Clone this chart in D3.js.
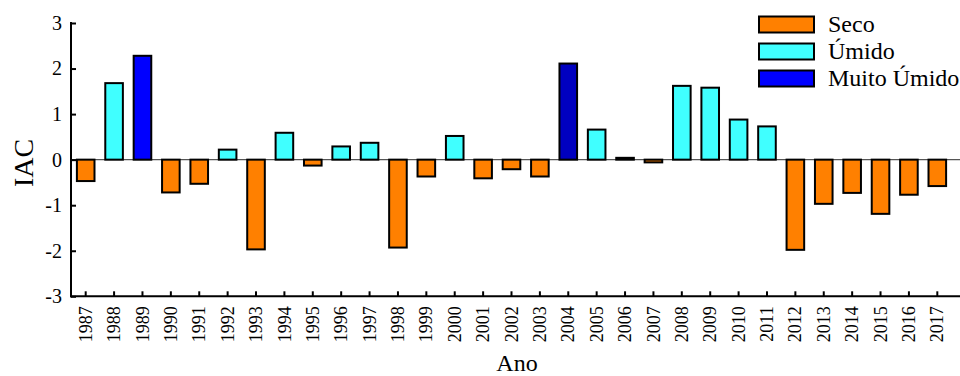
<!DOCTYPE html>
<html>
<head>
<meta charset="utf-8">
<script src="https://cdn.jsdelivr.net/npm/d3@7"></script>
<style>
  body { margin: 0; background: #fff; }
</style>
</head>
<body>
<svg id="chart" width="960" height="376"></svg>
<script>
// dados do IAC anual
const anos = d3.range(1987, 2018)
const iac = [-0.47, 1.68, 2.28, -0.72, -0.53, 0.22, -1.97, 0.59, -0.13, 0.29,
  0.37, -1.93, -0.37, 0.52, -0.41, -0.21, -0.37, 2.11, 0.66, 0.04,
  -0.06, 1.62, 1.58, 0.88, 0.73, -1.98, -0.97, -0.73, -1.19, -0.77, -0.58]
// classe de cada ano (2004 aparece num azul mais escuro no original)
const classe = ["Seco", "Úmido", "Muito Úmido", "Seco", "Seco", "Úmido", "Seco", "Úmido", "Seco", "Úmido",
  "Úmido", "Seco", "Seco", "Úmido", "Seco", "Seco", "Seco", "Muito Úmido 2", "Úmido", "Úmido",
  "Seco", "Úmido", "Úmido", "Úmido", "Úmido", "Seco", "Seco", "Seco", "Seco", "Seco", "Seco"]
const legenda = ["Seco", "Úmido", "Muito Úmido"]
const yTicks = [-3, -2, -1, 0, 1, 2, 3]

const cores = {"Seco": "#FF8000", "Úmido": "#40FFFF", "Muito Úmido": "#0000FF", "Muito Úmido 2": "#0000C0"}
const fonte = "'Liberation Serif', 'Times New Roman', serif"

const svg = d3.select("#chart")
const [mLeft, mRight, mTop, mBottom] = [71, 960, 23, 296.3]

const x = d3.scaleBand()
  .domain(anos)
  .range([mLeft + 0.5, 951.5])
  .paddingInner(0.38)
  .paddingOuter(0.19)

const y = d3.scaleLinear()
  .domain([-3, 3])
  .range([mBottom, mTop])

// linha do zero
svg.append("line")
  .attr("x1", mLeft).attr("x2", mRight)
  .attr("y1", y(0)).attr("y2", y(0))
  .attr("stroke", "#555").attr("stroke-width", 1.2)

// barras
svg.append("g").selectAll("rect")
  .data(anos)
  .join("rect")
  .attr("x", (d) => x(d))
  .attr("width", x.bandwidth())
  .attr("y", (d, i) => y(Math.max(0, iac[i])))
  .attr("height", (d, i) => Math.abs(y(iac[i]) - y(0)))
  .attr("fill", (d, i) => cores[classe[i]])
  .attr("stroke", "#000")
  .attr("stroke-width", 2)

// eixo y
const yAxis = svg.append("g")
  .attr("transform", "translate(" + mLeft + ",0)")
  .call(d3.axisLeft(y).tickValues(yTicks).tickSize(-5).tickPadding(9).tickFormat(d3.format("d")))
yAxis.select(".domain").remove()
yAxis.selectAll("line").attr("stroke", "#000").attr("stroke-width", 2)
yAxis.selectAll("text").style("font-size", "20px")
  .text((d) => String(d))

// eixo x
const xAxis = svg.append("g")
  .attr("transform", "translate(0," + mBottom + ")")
  .call(d3.axisBottom(x).tickSize(-5).tickSizeOuter(0))
xAxis.select(".domain").remove()
xAxis.selectAll("line").attr("stroke", "#000").attr("stroke-width", 2)
xAxis.selectAll("text")
  .style("font-size", "18px")
  .attr("text-anchor", "end")
  .attr("transform", "rotate(-90)")
  .attr("x", -10).attr("y", 0).attr("dy", "0.34em")

// linhas dos eixos
svg.append("line")
  .attr("x1", mLeft).attr("x2", mLeft).attr("y1", mTop - 1).attr("y2", mBottom + 1)
  .attr("stroke", "#000").attr("stroke-width", 2)
svg.append("line")
  .attr("x1", mLeft - 1).attr("x2", mRight).attr("y1", mBottom).attr("y2", mBottom)
  .attr("stroke", "#000").attr("stroke-width", 2)

// títulos
svg.append("text")
  .attr("transform", "translate(33,163) rotate(-90)")
  .attr("text-anchor", "middle")
  .style("font-size", "28px")
  .text("IAC")
svg.append("text")
  .attr("x", 517).attr("y", 371)
  .attr("text-anchor", "middle")
  .style("font-size", "24px")
  .text("Ano")

// legenda
const leg = svg.append("g").selectAll("g")
  .data(legenda)
  .join("g")
  .attr("transform", (d, i) => "translate(759," + (16.5 + i * 27) + ")")
leg.append("rect")
  .attr("width", 55).attr("height", 16)
  .attr("fill", (d) => cores[d])
  .attr("stroke", "#000").attr("stroke-width", 2)
leg.append("text")
  .attr("x", 69).attr("y", 15)
  .style("font-size", "24px")
  .text((d) => d)

// fonte serifada em todos os textos
svg.selectAll("g").attr("font-family", null)
svg.selectAll("text").style("font-family", fonte).style("fill", "#000")
</script>
</body>
</html>
